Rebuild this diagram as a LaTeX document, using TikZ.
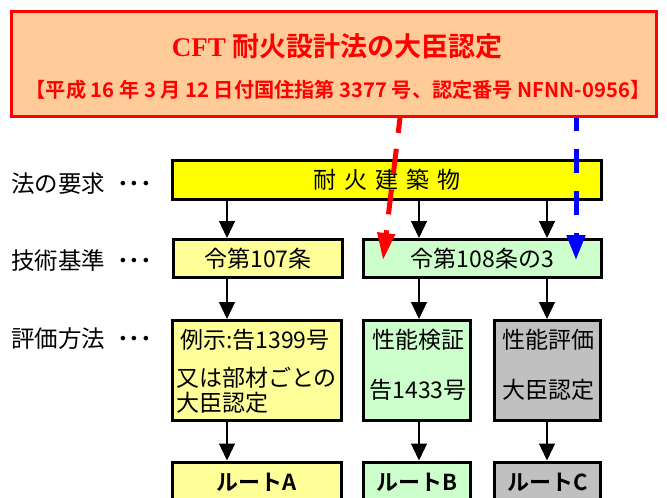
\documentclass[tikz,border=0pt]{standalone}
\usepackage{fontspec}
\setmainfont{Noto Sans CJK JP}[BoldFont={Noto Sans CJK JP Bold}]
\newfontfamily\lserif{Liberation Serif}
\usetikzlibrary{arrows.meta}
\definecolor{peach}{HTML}{FFCC99}
\definecolor{ylw}{HTML}{FFFF00}
\definecolor{lylw}{HTML}{FFFF99}
\definecolor{lgrn}{HTML}{CCFFCC}
\definecolor{gry}{HTML}{C0C0C0}
\definecolor{rd}{HTML}{FF0000}
\definecolor{bl}{HTML}{0000FF}
\begin{document}
\begin{tikzpicture}[x=1pt,y=-1pt,
  box/.style={draw=black, line width=3pt, inner sep=0pt, anchor=center},
  txt/.style={font=\fontsize{23}{26}\selectfont, inner sep=0pt},
  lbl/.style={font=\fontsize{23.5}{27}\selectfont, anchor=west, inner sep=0pt},
  conn/.style={line width=1.3pt, -{Triangle[width=16pt,length=17pt]}},
  reddash/.style={draw=rd, line width=5pt, dash pattern=on 25pt off 16pt, dash phase=10pt, -{Triangle[width=17pt,length=27pt]}},
  bluedash/.style={draw=bl, line width=5pt, dash pattern=on 24pt off 18pt, dash phase=11pt, -{Triangle[width=18pt,length=25pt]}}]
\useasboundingbox (0,0) rectangle (667,498);

% top box
\node[box, draw=rd, fill=peach, minimum width=645pt, minimum height=105pt] (top) at (334,64) {};
\node[inner sep=0pt, text=rd, font=\fontsize{27}{31}\selectfont\bfseries] (title) at (337,46) {{\lserif CFT} 耐火設計法の大臣認定};
\node[inner sep=0pt, text=rd, font=\fontsize{20.2}{23}\selectfont\bfseries] (sub) at (338,90) {【平成 16 年 3 月 12 日付国住指第 3377 号、認定番号 NFNN-0956】};

% row labels
\node[lbl] (l1) at (11,184) {法の要求\hspace{12pt}{\bfseries ･･･}};
\node[lbl] (l2) at (11,261) {技術基準\hspace{12pt}{\bfseries ･･･}};
\node[lbl] (l3) at (11,339) {評価方法\hspace{12pt}{\bfseries ･･･}};

% row 1
\node[box, fill=ylw, minimum width=429pt, minimum height=39pt, txt] (req) at (387,180) {耐\hspace{8pt}火\hspace{8pt}建\hspace{8pt}築\hspace{8pt}物};

% row 2
\node[box, fill=lylw, minimum width=169pt, minimum height=38pt, txt] (r2a) at (258,258.5) {令第107条};
\node[box, fill=lgrn, minimum width=238pt, minimum height=38pt, txt] (r2b) at (482.5,258.5) {令第108条の3};

% row 3
\node[box, fill=lylw, minimum width=169pt, minimum height=100pt] (r3a) at (257,370.5) {};
\node[box, fill=lgrn, minimum width=107pt, minimum height=100pt] (r3b) at (417,370.5) {};
\node[box, fill=gry, minimum width=106pt, minimum height=100pt] (r3c) at (547.5,370.5) {};
\node[txt, anchor=west] (ta1) at (180,340) {例示:告1399号};
\node[txt, anchor=west] (ta2) at (176,378) {又は部材ごとの};
\node[txt, anchor=west] (ta3) at (176,403) {大臣認定};
\node[txt] (tb1) at (418,340) {性能検証};
\node[txt] (tb2) at (418,390) {告1433号};
\node[txt] (tc1) at (548,340) {性能評価};
\node[txt] (tc2) at (548,390) {大臣認定};

% row 4
\node[box, fill=lylw, minimum width=169pt, minimum height=40pt, font=\fontsize{22}{25}\selectfont\bfseries] (r4a) at (257,482) {ルートA};
\node[box, fill=lgrn, minimum width=107pt, minimum height=40pt, font=\fontsize{22}{25}\selectfont\bfseries] (r4b) at (417,482) {ルートB};
\node[box, fill=gry, minimum width=106pt, minimum height=40pt, font=\fontsize{22}{25}\selectfont\bfseries] (r4c) at (547.5,482) {ルートC};

% arrow columns
\coordinate (ca) at (227,0);
\coordinate (cb) at (419,0);
\coordinate (cc) at (547,0);

\draw[conn] (req.south -| ca) -- (r2a.north -| ca);
\draw[conn] (req.south -| cb) -- (r2b.north -| cb);
\draw[conn] (req.south -| cc) -- (r2b.north -| cc);
\draw[conn] (r2a.south -| ca) -- (r3a.north -| ca);
\draw[conn] (r2b.south -| cb) -- (r3b.north -| cb);
\draw[conn] (r2b.south -| cc) -- (r3c.north -| cc);
\draw[conn] (r3a.south -| ca) -- (r4a.north -| ca);
\draw[conn] (r3b.south -| cb) -- (r4b.north -| cb);
\draw[conn] (r3c.south -| cc) -- (r4c.north -| cc);

% dashed arrows
\coordinate (rs) at (400,0);
\coordinate (rt) at (383,260);
\coordinate (bs) at (576,0);
\coordinate (bt) at (576,260);
\draw[reddash] (top.south -| rs) -- (rt);
\draw[bluedash] (top.south -| bs) -- (bt);
\end{tikzpicture}
\end{document}
